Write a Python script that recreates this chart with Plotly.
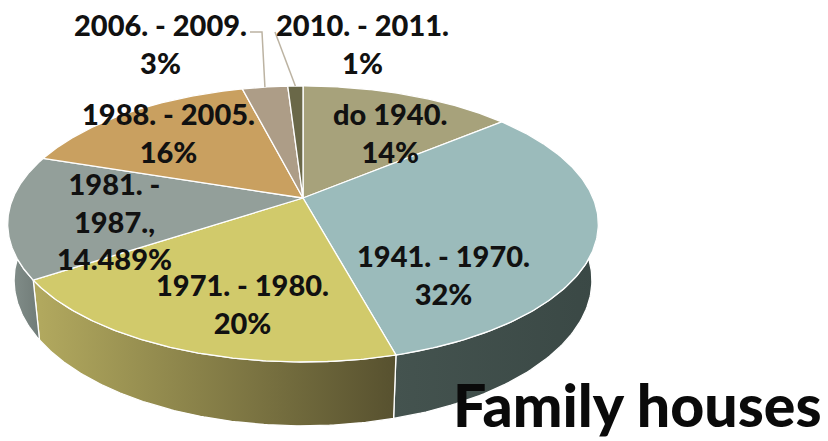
import numpy as np
import plotly.graph_objects as go

# ---------------- data ----------------
categories = ["do 1940.", "1941. - 1970.", "1971. - 1980.", "1981. - 1987.",
              "1988. - 2005.", "2006. - 2009.", "2010. - 2011."]
values = [14, 32, 20, 14.489, 16, 3, 1]
label_names = ["do 1940.", "1941. - 1970.", "1971. - 1980.", "1981. -<br>1987.,",
               "1988. - 2005.", "2006. - 2009.", "2010. - 2011."]
title_text = "Family houses"

# ---------------- style ----------------
top_colors = ["#a7a27b", "#9bbbbb", "#d1ca6b", "#939f9a", "#c9a060", "#ad9d87", "#6a6848"]
side_scales = [["#8a855f", "#6f6b4c"], ["#44534f", "#3a4845"], ["#b3aa5f", "#57512f"],
               ["#84908c", "#6b7672"], ["#a8844c", "#8a6c3d"], ["#8f816e", "#746858"],
               ["#55533a", "#45432f"]]
# label anchor positions (pixel space, centre of text block)
label_pos = [(390, 132), (443, 274), (242, 303), (114, 221), (168, 132), (160, 43), (362, 43)]
leader_from = {5: [(250, 32), (262, 32)], 6: [(275, 32)]}

W, H = 828, 441
CX, CY = 303.0, 198.0         # centre of the pie top (pixels)
FOC, DIST = 1369.0, 4.72      # perspective focal length / camera distance
PHI = np.arcsin(0.459)        # viewing elevation
THICK = 0.22                  # pie thickness (in radii)
SPH, CPH = np.sin(PHI), np.cos(PHI)


def project(u, v, z):
    depth = DIST - (v * CPH + z * SPH)
    x = CX + FOC * u / depth
    yup = z * CPH - v * SPH
    y = CY - FOC * yup / depth
    return x, y


vals = np.array(values, dtype=float)
frac = vals / vals.sum()
cum = np.concatenate([[0.0], np.cumsum(frac)])

fig = go.Figure()

# sides
for i in range(len(vals)):
    t = np.linspace(cum[i], cum[i + 1], 120) * 2 * np.pi
    u, v = np.sin(t), -np.cos(t)
    xt, yt = project(u, v, 0.0)
    xb, yb = project(u, v, -THICK)
    xs = np.concatenate([xt, xb[::-1], xt[:1]])
    ys = np.concatenate([yt, yb[::-1], yt[:1]])
    fig.add_trace(go.Scatter(
        x=xs, y=ys, mode="lines", fill="toself",
        line=dict(color="white", width=1.3),
        fillgradient=dict(type="horizontal",
                          colorscale=[[0, side_scales[i][0]], [1, side_scales[i][1]]]),
        hoverinfo="skip", showlegend=False))

# tops
for i in range(len(vals)):
    t = np.linspace(cum[i], cum[i + 1], 160) * 2 * np.pi
    u, v = np.sin(t), -np.cos(t)
    xt, yt = project(u, v, 0.0)
    xs = np.concatenate([[CX], xt, [CX]])
    ys = np.concatenate([[CY], yt, [CY]])
    fig.add_trace(go.Scatter(
        x=xs, y=ys, mode="lines", fill="toself",
        fillcolor=top_colors[i], line=dict(color="white", width=1.3),
        hoverinfo="skip", showlegend=False))

# leader lines
for i, pts in leader_from.items():
    tm = (cum[i] + cum[i + 1]) / 2 * 2 * np.pi
    rx, ry = project(np.sin(tm), -np.cos(tm), 0.0)
    lx = [p[0] for p in pts] + [rx]
    ly = [p[1] for p in pts] + [ry]
    fig.add_trace(go.Scatter(x=lx, y=ly, mode="lines",
                             line=dict(color="#bcb3a2", width=1.5),
                             hoverinfo="skip", showlegend=False))

# labels
for i in range(len(vals)):
    txt = f"{label_names[i]}<br>{values[i]:g}%"
    fig.add_annotation(x=label_pos[i][0], y=label_pos[i][1], xref="x", yref="y",
                       text=txt, showarrow=False,
                       xanchor="center", yanchor="middle", align="center",
                       font=dict(family="Lato", size=29, color="#111111", weight=900))

fig.add_annotation(x=637, y=404, xref="x", yref="y", text=title_text,
                   showarrow=False, xanchor="center", yanchor="middle",
                   font=dict(family="Lato", size=59, color="#0a0a0a", weight=900))

fig.update_layout(
    width=W, height=H, margin=dict(l=0, r=0, t=0, b=0),
    paper_bgcolor="white", plot_bgcolor="white",
    xaxis=dict(range=[0, W], visible=False, fixedrange=True),
    yaxis=dict(range=[H, 0], visible=False, fixedrange=True),
    showlegend=False, hovermode=False)

fig.write_html("out.html", config={"displayModeBar": False},
               post_script="document.body.style.margin='0';document.body.style.overflow='hidden';")
